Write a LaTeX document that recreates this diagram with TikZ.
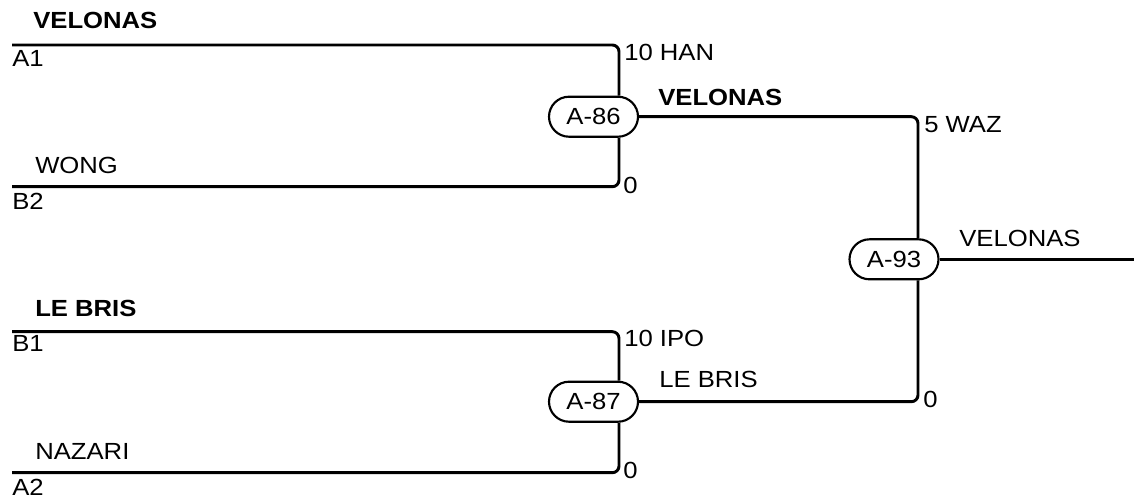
\documentclass[tikz,border=0pt]{standalone}
\usepackage{fontspec}
\setmainfont{Liberation Sans}[FakeStretch=1.1]
\newcommand\drawfont{\fontsize{17.5}{21}\selectfont}

\tikzset{
  wire/.style={line width=2.2pt,rounded corners=5pt},
  matchbox/.style={draw,line width=1.6pt,fill=white,rounded corners=15pt,
    minimum width=66.75pt,minimum height=30pt,inner sep=0pt,font=\drawfont},
  lbl/.style={anchor=base west,inner sep=0pt,font=\drawfont},
  winner/.style={lbl,font=\drawfont\bfseries},
}

\begin{document}
\begin{tikzpicture}[x=0.75pt,y=-0.75pt]
\useasboundingbox (0,0) rectangle (1134,497);
% match boxes
\node[matchbox] (m86) at (593.5,116.7) {A-86};
\node[matchbox] (m87) at (593.5,401.7) {A-87};
\node[matchbox] (m93) at (894,259.3) {A-93};
% slots and columns
\coordinate (a1) at (12,45);
\coordinate (b2) at (12,186.7);
\coordinate (b1) at (12,331.7);
\coordinate (a2) at (12,472.7);
\coordinate (col1) at (619,0);
\coordinate (col2) at (918,0);
\coordinate (out) at (1134,259.3);
% first round
\draw[wire] (a1) -| (col1 |- m86.north);
\draw[wire] (b2) -| (col1 |- m86.south);
\draw[wire] (b1) -| (col1 |- m87.north);
\draw[wire] (a2) -| (col1 |- m87.south);
% final
\draw[wire] (m86.east) -| (col2 |- m93.north);
\draw[wire] (m87.east) -| (col2 |- m93.south);
\draw[wire] (m93.east) -- (out);
% players
\node[winner] (p1) at (33,28.3) {VELONAS};
\node[lbl] (s1) at (12,66) {A1};
\node[lbl] (p2) at (35,173) {WONG};
\node[lbl] (s2) at (12,209) {B2};
\node[winner] (p3) at (35,316) {LE BRIS};
\node[lbl] (s3) at (12,351) {B1};
\node[lbl] (p4) at (35,459) {NAZARI};
\node[lbl] (s4) at (12,495) {A2};
% scores
\node[lbl] (r1) at (624,60.7) {10 HAN};
\node[lbl] (r2) at (623,193) {0};
\node[lbl] (r3) at (624,346) {10 IPO};
\node[lbl] (r4) at (623,478) {0};
\node[lbl] (r5) at (924,132) {5 WAZ};
\node[lbl] (r6) at (923,407) {0};
% winners
\node[winner] (w86) at (658,105) {VELONAS};
\node[lbl] (w87) at (659,387) {LE BRIS};
\node[lbl] (w93) at (959,246) {VELONAS};
\end{tikzpicture}
\end{document}
